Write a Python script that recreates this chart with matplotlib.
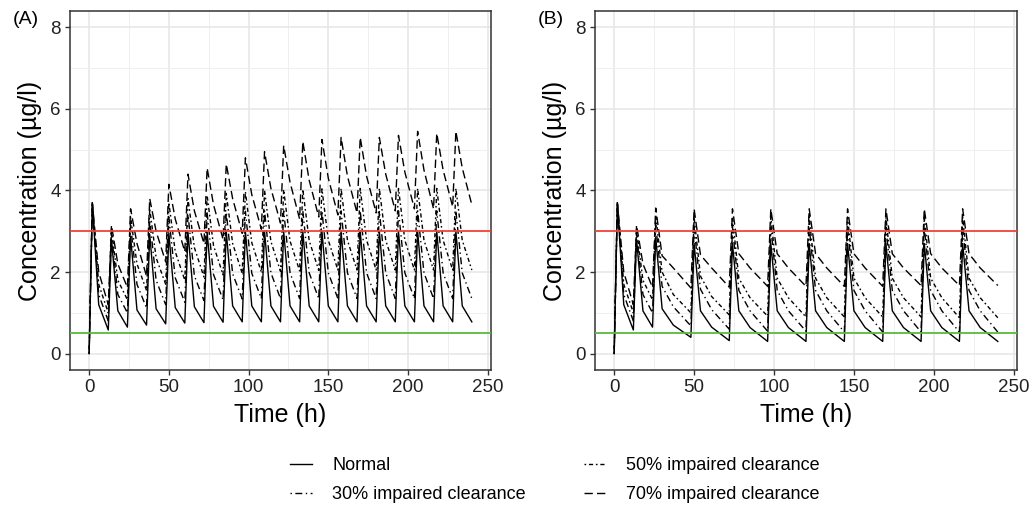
import numpy as np
import matplotlib.pyplot as plt
from matplotlib.lines import Line2D
from matplotlib.ticker import MultipleLocator

plt.rcParams['font.family'] = ['Liberation Sans', 'DejaVu Sans']

nan = np.nan
series_names = ['Normal', '30% impaired clearance', '50% impaired clearance', '70% impaired clearance']
end_time = 240

# panel A: dose every 12 h. values read at dose+2 (peak), dose+6 (knee) and next dose (trough)
doses_a = [0, 12, 24, 36, 48, 60, 72, 84, 96, 108, 120, 132, 144, 156, 168, 180, 192, 204, 216, 228]
peaks_a = {
    'Normal': [3.7, 2.8, 2.87, 2.92, 2.95, 2.97, 2.98, 2.99, 3.0, 3.0, 3.0, 3.0, 3.0, 3.0, 3.0, 3.0, 3.0, 3.0, 3.0, 3.0],
    '30%': [3.7, 2.95, 3.15, 3.27, 3.35, 3.41, 3.45, 3.47, 3.49, 3.5, 3.5, 3.5, 3.5, 3.5, 3.5, 3.5, 3.5, 3.5, 3.5, 3.5],
    '50%': [3.7, 3.05, 3.35, 3.55, 3.7, 3.8, 3.88, 3.93, 3.97, 4.0, 4.02, 4.03, 4.04, 4.05, 4.05, 4.05, 4.05, 4.05, 4.05, 4.05],
    '70%': [3.7, 3.15, 3.55, 3.8, 4.15, 4.4, 4.55, 4.65, 4.8, 4.95, 5.1, 5.2, 5.25, 5.3, 5.3, 5.3, 5.35, 5.45, 5.4, 5.45],
}
knees_a = {
    'Normal': [1.2, 1.05, 1.07, 1.1, 1.13, 1.15, 1.16, 1.17, 1.17, 1.17, 1.17, 1.17, 1.17, 1.17, 1.17, 1.17, 1.17, 1.17, 1.17, 1.17],
    '30%': [1.45, 1.45, 1.7, 1.8, 1.86, 1.91, 1.94, 1.96, 1.97, 1.98, 1.98, 1.98, 1.98, 1.98, 1.98, 1.98, 1.98, 1.98, 1.98, 1.98],
    '50%': [1.7, 1.8, 2.2, 2.35, 2.5, 2.6, 2.65, 2.7, 2.72, 2.75, 2.76, 2.77, 2.78, 2.78, 2.78, 2.78, 2.78, 2.78, 2.78, 2.78],
    '70%': [2.0, 2.2, 2.7, 3.0, 3.3, 3.5, 3.65, 3.8, 3.9, 4.05, 4.2, 4.25, 4.3, 4.35, 4.35, 4.4, 4.45, 4.5, 4.5, 4.55],
}
troughs_a = {
    'Normal': [0.58, 0.65, 0.7, 0.73, 0.75, 0.76, 0.77, 0.78, 0.78, 0.78, 0.78, 0.78, 0.78, 0.78, 0.78, 0.78, 0.78, 0.78, 0.78, 0.78],
    '30%': [0.8, 1.0, 1.12, 1.2, 1.26, 1.3, 1.32, 1.34, 1.35, 1.35, 1.35, 1.35, 1.35, 1.35, 1.35, 1.35, 1.35, 1.35, 1.35, 1.35],
    '50%': [1.0, 1.32, 1.55, 1.7, 1.8, 1.88, 1.93, 1.97, 2.0, 2.02, 2.03, 2.04, 2.05, 2.05, 2.05, 2.05, 2.05, 2.05, 2.05, 2.05],
    '70%': [1.2, 1.62, 1.9, 2.25, 2.5, 2.7, 2.8, 2.95, 3.05, 3.2, 3.3, 3.35, 3.4, 3.45, 3.45, 3.5, 3.55, 3.55, 3.6, 3.65],
}

# panel B: three doses 12 h apart, then daily. extra value at dose+13 for the 24 h intervals
doses_b = [0, 12, 24, 48, 72, 96, 120, 144, 168, 192, 216]
peaks_b = {
    'Normal': [3.7, 2.8, 2.85, 2.7, 2.7, 2.7, 2.7, 2.7, 2.7, 2.7, 2.7],
    '30%': [3.7, 2.95, 3.15, 3.1, 3.1, 3.1, 3.1, 3.1, 3.1, 3.1, 3.1],
    '50%': [3.7, 3.05, 3.4, 3.35, 3.35, 3.35, 3.35, 3.35, 3.35, 3.35, 3.35],
    '70%': [3.7, 3.15, 3.57, 3.55, 3.55, 3.55, 3.55, 3.55, 3.55, 3.55, 3.55],
}
knees_b = {
    'Normal': [1.2, 1.05, 1.1, 1.05, 1.05, 1.05, 1.05, 1.05, 1.05, 1.05, 1.05],
    '30%': [1.45, 1.45, 1.65, 1.58, 1.55, 1.55, 1.55, 1.55, 1.55, 1.55, 1.55],
    '50%': [1.7, 1.8, 2.0, 1.9, 1.85, 1.85, 1.85, 1.85, 1.85, 1.85, 1.85],
    '70%': [2.0, 2.2, 2.4, 2.42, 2.45, 2.45, 2.45, 2.45, 2.45, 2.45, 2.45],
}
mids_b = {
    'Normal': [nan, nan, 0.7, 0.65, 0.64, 0.64, 0.64, 0.64, 0.64, 0.64, 0.64],
    '30%': [nan, nan, 1.15, 1.08, 1.05, 1.05, 1.05, 1.05, 1.05, 1.05, 1.05],
    '50%': [nan, nan, 1.45, 1.4, 1.37, 1.37, 1.37, 1.37, 1.37, 1.37, 1.37],
    '70%': [nan, nan, 2.1, 2.1, 2.1, 2.1, 2.1, 2.1, 2.1, 2.1, 2.1],
}
troughs_b = {
    'Normal': [0.58, 0.65, 0.4, 0.32, 0.3, 0.3, 0.3, 0.3, 0.3, 0.3, 0.3],
    '30%': [0.8, 1.0, 0.68, 0.6, 0.55, 0.55, 0.53, 0.53, 0.53, 0.53, 0.53],
    '50%': [1.0, 1.32, 1.0, 0.95, 0.92, 0.9, 0.9, 0.9, 0.9, 0.88, 0.88],
    '70%': [1.2, 1.62, 1.61, 1.63, 1.65, 1.65, 1.65, 1.65, 1.67, 1.67, 1.67],
}

keys = ['Normal', '30%', '50%', '70%']
styles = {
    'Normal': '-',
    '30%': (0, (1, 2.5, 5, 2.5)),
    '50%': (0, (1.2, 2, 3, 2)),
    '70%': (0, (6, 3)),
}
red_level = 3
green_level = 0.5


def profile(doses, peaks, knees, troughs, mids=None):
    # polyline through the values
    xs, ys = [0], [0]
    for i, d in enumerate(doses):
        nxt = doses[i + 1] if i + 1 < len(doses) else end_time
        xs += [d + 2, d + 6]
        ys += [peaks[i], knees[i]]
        if mids is not None and not np.isnan(mids[i]):
            xs.append(d + 13)
            ys.append(mids[i])
        xs.append(nxt)
        ys.append(troughs[i])
    return xs, ys


def style_axes(ax, label):
    ax.set_xlim(-12, 252)
    ax.set_ylim(-0.4, 8.4)
    ax.xaxis.set_major_locator(MultipleLocator(50))
    ax.xaxis.set_minor_locator(MultipleLocator(25))
    ax.yaxis.set_major_locator(MultipleLocator(2))
    ax.yaxis.set_minor_locator(MultipleLocator(1))
    ax.grid(which='major', color='#e6e6e6', lw=1.1, zorder=0)
    ax.grid(which='minor', color='#efefef', lw=0.7, zorder=0)
    ax.set_axisbelow(True)
    for s in ax.spines.values():
        s.set_color('#333333')
        s.set_linewidth(1.1)
    ax.tick_params(which='major', length=3.5, width=1, color='#333333',
                   labelsize=13.5, labelcolor='#222222', pad=3)
    ax.tick_params(which='minor', length=0)
    ax.set_xlabel('Time (h)', fontsize=18, labelpad=5)
    ax.set_ylabel('Concentration (µg/l)', fontsize=18, labelpad=6)
    ax.text(-0.135, 1.0, label, transform=ax.transAxes, fontsize=14, va='top', ha='left')


fig = plt.figure(figsize=(10.31, 5.08), dpi=100)
ax_a = fig.add_axes([0.0679, 0.2717, 0.4083, 0.7067])
ax_b = fig.add_axes([0.5771, 0.2717, 0.4093, 0.7067])

for k in keys:
    x, y = profile(doses_a, peaks_a[k], knees_a[k], troughs_a[k])
    ax_a.plot(x, y, color='black', lw=1.0, ls=styles[k], zorder=3)
    x, y = profile(doses_b, peaks_b[k], knees_b[k], troughs_b[k], mids_b[k])
    ax_b.plot(x, y, color='black', lw=1.0, ls=styles[k], zorder=3)

for ax, lab in [(ax_a, '(A)'), (ax_b, '(B)')]:
    ax.axhline(red_level, color='#f04438', lw=1.3, zorder=4)
    ax.axhline(green_level, color='#58bb3c', lw=1.3, zorder=4)
    style_axes(ax, lab)

handles = [Line2D([], [], color='black', lw=1.0, ls=styles[k]) for k in keys]
fig.legend(handles, series_names, ncol=2, loc='lower center', bbox_to_anchor=(0.538, -0.022),
           frameon=False, fontsize=13, handlelength=1.25, handletextpad=1.1,
           columnspacing=3.2, labelspacing=0.65)

fig.savefig('out.png', dpi=100)
